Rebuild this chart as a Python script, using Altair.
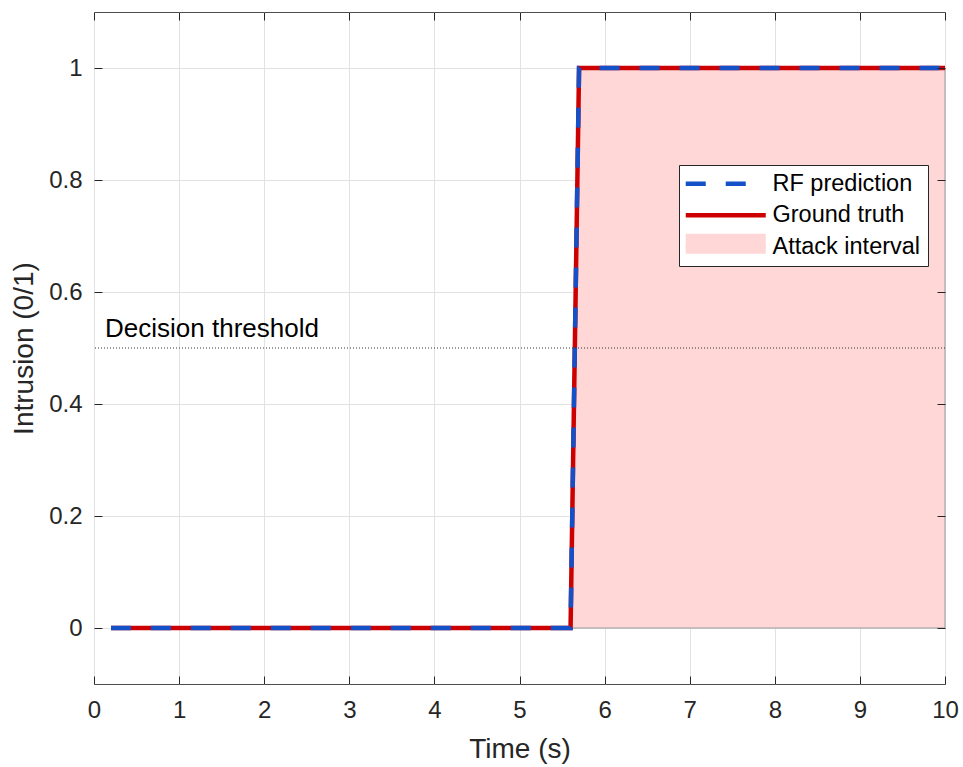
import altair as alt
import pandas as pd

# ---- data ----
time_s = [0.2, 5.6, 5.7, 10.0]
ground_truth = [0, 0, 1, 1]
rf_prediction = [0, 0, 1, 1]
threshold_value = [0.5]
threshold_label = ["Decision threshold"]
threshold_label_x = [0.13]
x_ticks = [0, 1, 2, 3, 4, 5, 6, 7, 8, 9, 10]
y_ticks = [0, 0.2, 0.4, 0.6, 0.8, 1]
legend_labels = ["RF prediction", "Ground truth", "Attack interval"]
attack_label = ["Attack interval"]

BLUE = "#1450c8"
RED = "#cc0000"
PINK = "#ffd7d7"
FONT = "Liberation Sans"
AX = "#262626"

gt_df = pd.DataFrame({"t": time_s, "v": ground_truth, "series": "Ground truth"})
attack_df = pd.DataFrame({"t": time_s, "v": ground_truth, "region": attack_label * len(time_s)})
rf_df = pd.DataFrame({"t": time_s, "v": rf_prediction, "series": "RF prediction"})
thr_df = pd.DataFrame({"thr": threshold_value, "label": threshold_label, "lx": threshold_label_x})

xs = alt.Scale(domain=[0, 10], nice=False, zero=False)
ys = alt.Scale(domain=[-0.1, 1.1], nice=False, zero=False)

main_x_axis = alt.Axis(values=x_ticks, format="d", title="Time (s)", offset=-8, tickSize=8,
                       labelPadding=14, labelFlush=False, domain=False, grid=True, titleY=81,
                       titleBaseline="alphabetic")
main_y_axis = alt.Axis(values=y_ticks, format=".1~f", title="Intrusion (0/1)", offset=-8,
                       tickSize=8, labelPadding=12, labelFlush=False, domain=False, grid=True,
                       titleX=-70, titleBaseline="alphabetic")
top_axis = alt.Axis(orient="top", values=x_ticks, labels=False, title="", offset=-8,
                    tickSize=8, domain=False, grid=False, zindex=1)
right_axis = alt.Axis(orient="right", values=y_ticks, labels=False, title="", offset=-8,
                      tickSize=8, domain=False, grid=False, zindex=1)

# legend patch for the attack interval (drawn over the third legend row)
attack_legend = alt.Legend(
    title=None, orient="none", legendX=592, legendY=220, padding=0, zindex=2,
    labelFont=FONT, labelFontSize=23.5, labelExpr="''", labelOffset=35,
    symbolType="M-20,-5H20V5H-20Z", symbolSize=16, symbolOffset=28,
    symbolStrokeWidth=0, symbolOpacity=1,
)

area = alt.Chart(attack_df).mark_area(stroke="#9a9a9a", strokeWidth=1, opacity=1).encode(
    x=alt.X("t:Q", scale=xs, axis=main_x_axis),
    y=alt.Y("v:Q", scale=ys, axis=main_y_axis),
    y2=alt.Y2(datum=0),
    fill=alt.Fill("region:N", scale=alt.Scale(domain=attack_label, range=[PINK]),
                  legend=attack_legend),
)

gt_line = alt.Chart(gt_df).mark_line(color=RED, strokeWidth=4.5, strokeCap="butt").encode(
    x=alt.X("t:Q", scale=xs, axis=top_axis),
    y=alt.Y("v:Q", scale=ys, axis=right_axis),
)

legend = alt.Legend(
    title=None, orient="none", legendX=585, legendY=153, padding=7, zindex=1,
    strokeColor=AX, fillColor="white",
    labelFont=FONT, labelFontSize=23.5, labelColor="#000000", labelLimit=400,
    symbolType="M-20,0H20", symbolSize=16, symbolOffset=28, labelOffset=35,
    rowPadding=6.5, symbolOpacity=1, symbolStrokeWidth=4.5,
)

rf_line = alt.Chart(rf_df).mark_line(strokeCap="butt", strokeWidth=4.5).encode(
    x=alt.X("t:Q", scale=xs, axis=None),
    y=alt.Y("v:Q", scale=ys, axis=None),
    color=alt.Color("series:N", scale=alt.Scale(domain=legend_labels, range=[BLUE, RED, PINK]),
                    legend=legend),
    strokeDash=alt.StrokeDash("series:N",
                              scale=alt.Scale(domain=legend_labels, range=[[20, 20], [1, 0], [1, 0]]),
                              legend=legend),
)

rule = alt.Chart(thr_df).mark_rule(color="#333333", strokeWidth=1, strokeDash=[1, 2]).encode(
    y=alt.Y("thr:Q", scale=ys, axis=None),
)

text = alt.Chart(thr_df).mark_text(align="left", baseline="alphabetic", dy=-11, fontSize=26,
                                   font=FONT, color="#000000").encode(
    x=alt.X("lx:Q", scale=xs, axis=None),
    y=alt.Y("thr:Q", scale=ys, axis=None),
    text="label:N",
)

chart = (
    alt.layer(area, gt_line, rf_line, rule, text)
    .resolve_axis(x="independent", y="independent")
    .properties(
        width=851, height=672,
        autosize=alt.AutoSizeParams(type="none"),
        padding={"left": 94, "top": 12, "right": 18, "bottom": 83},
        background="white",
    )
    .configure_view(stroke="#4d4d4d", strokeWidth=1)
    .configure_axis(
        labelFont=FONT, labelFontSize=24, labelColor=AX,
        titleFont=FONT, titleFontSize=28, titleColor=AX, titleFontWeight="normal",
        tickColor=AX, tickWidth=1, gridColor="#e2e2e2", gridWidth=1,
    )
)

chart.save("out.html", embed_options={"renderer": "svg", "actions": False})
